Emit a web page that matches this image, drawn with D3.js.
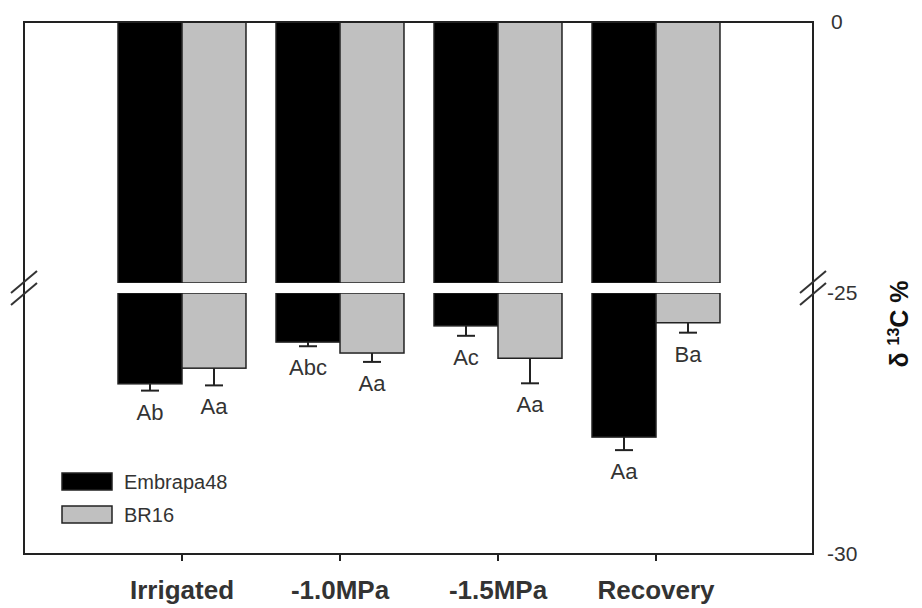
<!DOCTYPE html>
<html>
<head>
<meta charset="utf-8">
<script src="https://cdn.jsdelivr.net/npm/d3@7"></script>
<style>
  body { margin: 0; background: #fff; }
  svg { display: block; font-family: "Liberation Sans", Arial, sans-serif; }
  .tick text { fill: #333; }
</style>
</head>
<body>
<svg width="922" height="608"></svg>
<script>
// data
const categories = ['Irrigated', '-1.0MPa', '-1.5MPa', 'Recovery']
const embrapa48 = [-26.74, -25.94, -25.63, -27.76]
const br16 = [-26.44, -26.15, -26.25, -25.57]
const embrapa48Err = [0.13, 0.08, 0.19, 0.25]
const br16Err = [0.33, 0.17, 0.48, 0.19]
const embrapa48Letters = ['Ab', 'Abc', 'Ac', 'Aa']
const br16Letters = ['Aa', 'Aa', 'Aa', 'Ba']
const seriesNames = ['Embrapa48', 'BR16']
const upperTicks = [0]
const lowerTicks = [-25, -30]

const colors = ['#000000', '#c0c0c0']

const svg = d3.select('svg')

const plotLeft = 24, plotRight = 813, plotTop = 22, plotBottom = 554
const breakTop = 283, breakBottom = 293

const x = d3.scaleBand()
  .domain(categories)
  .range([103, 735])
  .paddingInner(0.19)
  .paddingOuter(0.095)

const xSub = d3.scaleBand()
  .domain(seriesNames)
  .range([0, x.bandwidth()])

// broken y axis: two pieces
const yUpper = d3.scaleLinear().domain([0, -25]).range([plotTop, breakTop])
const yLower = d3.scaleLinear().domain([-25, -30]).range([breakBottom, plotBottom])

const rows = categories.map((c, i) => [
  {cat: c, s: 0, v: embrapa48[i], e: embrapa48Err[i], l: embrapa48Letters[i]},
  {cat: c, s: 1, v: br16[i], e: br16Err[i], l: br16Letters[i]}
]).flat()

const bars = svg.append('g')

// upper piece of each bar
bars.selectAll('.upper')
  .data(rows)
  .enter()
  .append('rect')
  .attr('x', d => x(d.cat) + xSub(seriesNames[d.s]))
  .attr('y', yUpper(0))
  .attr('width', xSub.bandwidth())
  .attr('height', yUpper(-25) - yUpper(0))
  .attr('fill', d => colors[d.s])
  .attr('stroke', '#222')
  .attr('stroke-width', 1.5)

// lower piece
bars.selectAll('.lower')
  .data(rows)
  .enter()
  .append('rect')
  .attr('x', d => x(d.cat) + xSub(seriesNames[d.s]))
  .attr('y', yLower(-25))
  .attr('width', xSub.bandwidth())
  .attr('height', d => yLower(d.v) - yLower(-25))
  .attr('fill', d => colors[d.s])
  .attr('stroke', '#222')
  .attr('stroke-width', 1.5)

// error bars, downward only
const err = svg.append('g').attr('stroke', '#222').attr('stroke-width', 2)
rows.forEach(d => {
  const cx = x(d.cat) + xSub(seriesNames[d.s]) + xSub.bandwidth() / 2
  err.append('line')
    .attr('x1', cx).attr('x2', cx)
    .attr('y1', yLower(d.v)).attr('y2', yLower(d.v - d.e))
  err.append('line')
    .attr('x1', cx - 9).attr('x2', cx + 9)
    .attr('y1', yLower(d.v - d.e)).attr('y2', yLower(d.v - d.e))
})

// significance letters
svg.append('g')
  .selectAll('text')
  .data(rows)
  .enter()
  .append('text')
  .attr('x', d => x(d.cat) + xSub(seriesNames[d.s]) + xSub.bandwidth() / 2)
  .attr('y', d => yLower(d.v - d.e) + 29)
  .attr('text-anchor', 'middle')
  .attr('font-size', 22)
  .attr('fill', '#333')
  .text(d => d.l)

// white band of the break
svg.append('rect')
  .attr('x', plotLeft + 1)
  .attr('y', breakTop)
  .attr('width', plotRight - plotLeft - 2)
  .attr('height', breakBottom - breakTop)
  .attr('fill', '#fff')

// frame
svg.append('rect')
  .attr('x', plotLeft)
  .attr('y', plotTop)
  .attr('width', plotRight - plotLeft)
  .attr('height', plotBottom - plotTop)
  .attr('fill', 'none')
  .attr('stroke', '#222')
  .attr('stroke-width', 2)

// break marks on both axes
const slashes = svg.append('g').attr('stroke', '#333').attr('stroke-width', 2)
;[plotLeft, plotRight].forEach(ax => {
  ;[breakTop - 1, breakBottom + 1].forEach(yy => {
    slashes.append('line')
      .attr('x1', ax - 13).attr('y1', yy + 11)
      .attr('x2', ax + 13).attr('y2', yy - 11)
  })
})

// x axis
const xAxis = svg.append('g')
  .attr('transform', `translate(0, ${plotBottom})`)
  .call(d3.axisBottom(x).tickSize(7).tickSizeOuter(0).tickPadding(0))
xAxis.select('.domain').remove()
xAxis.selectAll('line').attr('stroke', '#222').attr('stroke-width', 2)
xAxis.selectAll('text')
  .attr('y', 45)
  .attr('dy', null)
  .attr('font-size', 26)
  .attr('font-weight', 'bold')
  .attr('fill', '#111')
  .style('font-family', '"Liberation Sans", Arial, sans-serif')

// right y axis labels
const fmt = d => String(d)
const yUp = svg.append('g')
  .attr('transform', `translate(${plotRight}, 0)`)
  .call(d3.axisRight(yUpper).tickValues(upperTicks).tickFormat(fmt).tickSize(0).tickPadding(18))
const yLow = svg.append('g')
  .attr('transform', `translate(${plotRight}, 0)`)
  .call(d3.axisRight(yLower).tickValues(lowerTicks).tickFormat(fmt).tickSize(0).tickPadding(14))
;[yUp, yLow].forEach(g => {
  g.select('.domain').remove()
  g.selectAll('text')
    .attr('font-size', 21)
    .style('font-family', '"Liberation Sans", Arial, sans-serif')
})

// y title
const title = svg.append('text')
  .attr('transform', 'translate(908, 324) rotate(-90)')
  .attr('text-anchor', 'middle')
  .attr('font-size', 25)
  .attr('font-weight', 'bold')
  .attr('fill', '#111')
title.append('tspan').text('δ ')
title.append('tspan').attr('font-size', 16).attr('dy', -9).text('13')
title.append('tspan').attr('dy', 9).text('C %')

// legend
const legend = svg.append('g')
seriesNames.forEach((name, i) => {
  const ly = 473 + i * 33
  legend.append('rect')
    .attr('x', 62)
    .attr('y', ly)
    .attr('width', 50)
    .attr('height', 17)
    .attr('fill', colors[i])
    .attr('stroke', '#222')
    .attr('stroke-width', 1.5)
  legend.append('text')
    .attr('x', 124)
    .attr('y', ly + 8.5)
    .attr('dy', '0.35em')
    .attr('font-size', 20)
    .attr('fill', '#333')
    .text(name)
})
</script>
</body>
</html>
